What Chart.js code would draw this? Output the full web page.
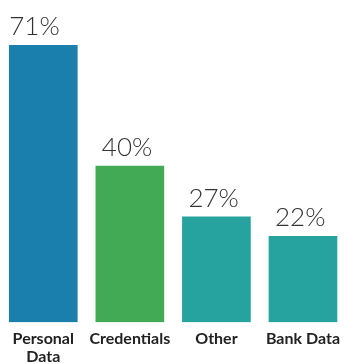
<!DOCTYPE html>
<html>
<head>
<meta charset="utf-8">
<script src="https://cdn.jsdelivr.net/npm/chart.js@4"></script>
<style>
  html, body { margin: 0; padding: 0; background: #fff; }
  #wrap { width: 347px; height: 364px; }
</style>
</head>
<body>
<div id="wrap"><canvas id="chart"></canvas></div>
<script>
const categories = [['Personal', 'Data'], 'Credentials', 'Other', 'Bank Data'];
const shares = [71, 40, 27, 22];
const barColors = ['#1b7fad', '#42a955', '#27a39f', '#27a39f'];

// percent labels above each bar
const valueLabels = {
  id: 'valueLabels',
  afterDatasetsDraw(chart) {
    const ctx = chart.ctx;
    const meta = chart.getDatasetMeta(0);
    ctx.save();
    ctx.font = '300 26px Lato';
    ctx.fillStyle = '#333';
    ctx.textAlign = 'left';
    ctx.textBaseline = 'alphabetic';
    meta.data.forEach((bar, i) => {
      const left = bar.x - bar.width / 2;
      ctx.fillText(shares[i] + '%', left + (i === 0 ? 0 : 6), bar.y - 10);
    });
    ctx.restore();
  }
};

new Chart(document.getElementById('chart').getContext('2d'), {
  type: 'bar',
  data: {
    labels: categories,
    datasets: [{
      data: shares,
      backgroundColor: barColors,
      barThickness: 68
    }]
  },
  options: {
    responsive: true,
    maintainAspectRatio: false,
    animation: false,
    layout: { padding: { top: 45, left: 0, right: 0, bottom: -9 } },
    plugins: {
      legend: { display: false },
      tooltip: { enabled: false }
    },
    scales: {
      x: {
        grid: { display: false, drawTicks: false },
        border: { display: false },
        ticks: {
          color: '#222',
          font: { family: 'Lato', size: 16, weight: 'bold', lineHeight: 1.15 },
          padding: 7,
          maxRotation: 0,
          autoSkip: false
        }
      },
      y: {
        display: false,
        min: 0,
        max: Math.max(...shares)
      }
    }
  },
  plugins: [valueLabels]
});
</script>
</body>
</html>
